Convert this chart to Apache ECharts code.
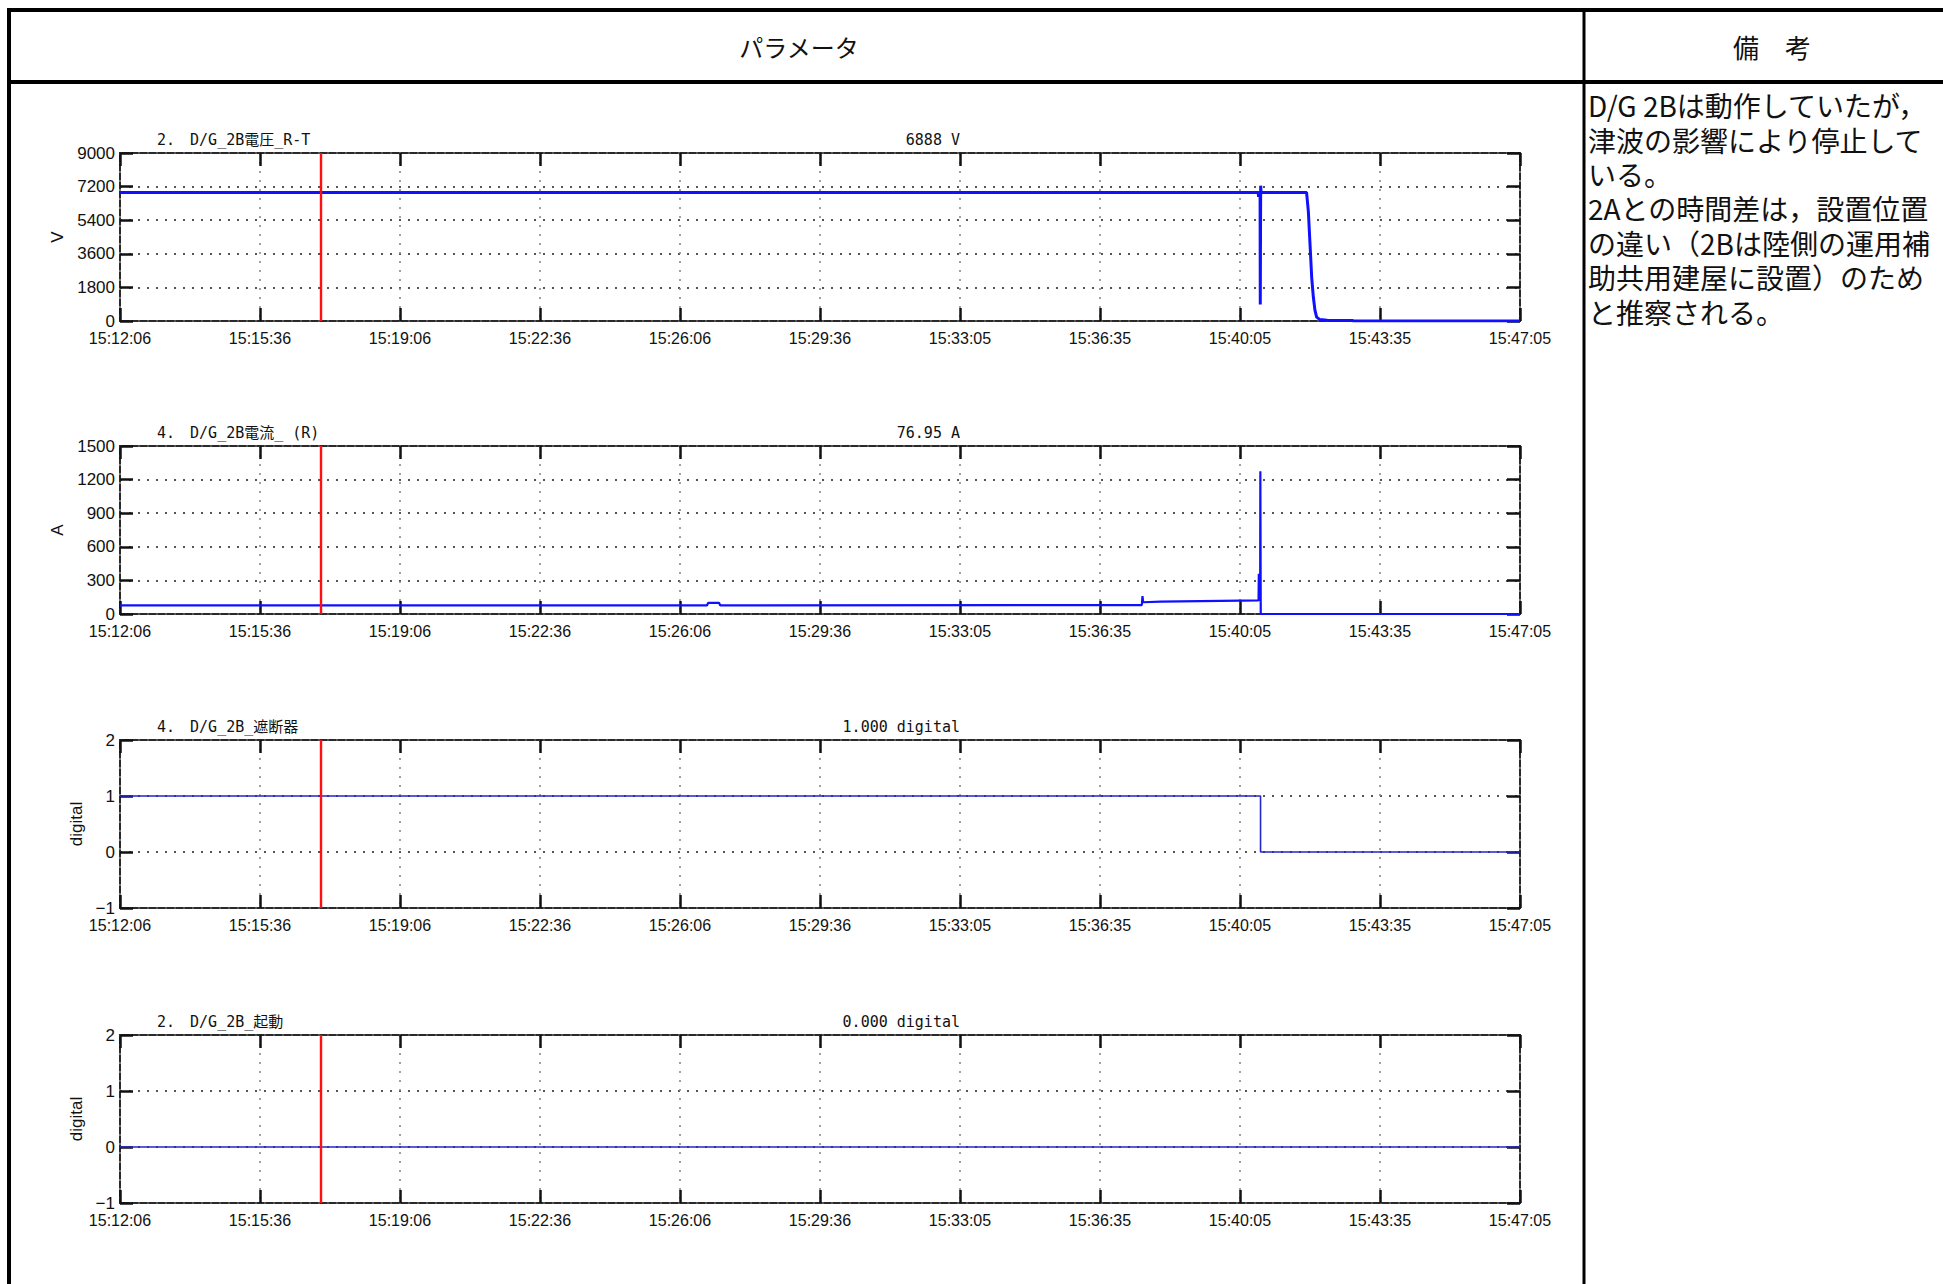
<!DOCTYPE html>
<html>
<head>
<meta charset="utf-8">
<script src="https://cdn.jsdelivr.net/npm/echarts@6/dist/echarts.min.js"></script>
<style>
  html, body { margin: 0; padding: 0; background: #fff; }
  #chart { width: 1943px; height: 1284px; }
</style>
</head>
<body>
<div id="chart"></div>
<script>
// ---------- data (time in seconds after 15:12:06) ----------
const xTickLabels = ['15:12:06','15:15:36','15:19:06','15:22:36','15:26:06','15:29:36','15:33:05','15:36:35','15:40:05','15:43:35','15:47:05'];
const xSpanSec = 2099;          // 15:12:06 -> 15:47:05
const cursorSec = 301;          // red cursor (about 15:17:07)

const voltTicks = ['0','1800','3600','5400','7200','9000'];
const ampTicks = ['0','300','600','900','1200','1500'];
const digitalTicks = ['\u22121','0','1','2'];

const voltTime  = [0, 1706.5, 1707, 1707.5, 1709.3, 1709.6, 1710.2, 1710.8, 1711.5, 1779, 1781.7, 1784.2, 1786.7, 1789.2, 1791.6, 1794.1, 1799, 1810, 1848, 1849, 2099];
const voltValue = [6888, 6888, 6650, 6888, 6888, 880, 7250, 6888, 6888, 6888, 5860, 4100, 2330, 1270, 570, 210, 75, 40, 30, 0, 0];

const ampTime  = [0, 880, 882, 898, 900, 1532, 1533, 1534, 1560, 1620, 1680, 1707, 1707.4, 1707.8, 1709.4, 1709.7, 1710.3, 2099];
const ampValue = [77, 77, 100, 100, 77, 80, 160, 105, 110, 115, 120, 122, 360, 125, 125, 1275, 0, 0];

const breakerTime  = [0, 1710, 1710, 2099];
const breakerValue = [1, 1, 0, 0];

const startTime  = [0, 2099];
const startValue = [0, 0];

const panelTitles = ['2.\u3000D/G_2B電圧_R-T', '4.\u3000D/G_2B電流_ (R)', '4.\u3000D/G_2B_遮断器', '2.\u3000D/G_2B_起動'];
const panelReadouts = ['6888 V', '76.95 A', '1.000 digital', '0.000 digital'];
const yUnits = ['V', 'A', 'digital', 'digital'];
const yMins = [0, 0, -1, -1];
const yMaxs = [9000, 1500, 2, 2];
const ySteps = [1800, 300, 1, 1];
const yTickSets = [voltTicks, ampTicks, digitalTicks, digitalTicks];

const headerLeft = 'パラメータ';
const headerRight = '備\u3000考';
const noteLines = [
  'D/G 2Bは動作していたが，',
  '津波の影響により停止して',
  'いる。',
  '2Aとの時間差は，設置位置',
  'の違い（2Bは陸側の運用補',
  '助共用建屋に設置）のため',
  'と推察される。'
];

// ---------- layout / style ----------
const gridTops = [153, 446, 740, 1035];
const gridH = 168, gridL = 120, gridW = 1400;
const lineWidths = [3, 2.2, 1.6, 1.6];
const lineColors = ['#1010ff', '#1010ff', '#2626c8', '#2626c8'];
const tickFont = '"Liberation Sans", Arial, sans-serif';
const monoFont = '"DejaVu Sans Mono", "Noto Sans CJK JP", monospace';
const jpFont = '"Noto Sans CJK JP", sans-serif';

const series = [[voltTime, voltValue], [ampTime, ampValue], [breakerTime, breakerValue], [startTime, startValue]];

const grids = [], xAxes = [], yAxes = [], seriesList = [], graphics = [];
const xStep = xSpanSec / 10;
const tickStyle = { color: '#111', width: 2.5 };

for (let i = 0; i < 4; i++) {
  grids.push({ left: gridL, top: gridTops[i], width: gridW, height: gridH, show: true,
    borderColor: '#2a2a2a', borderWidth: 2, backgroundColor: 'transparent' });
  // bottom x axis with labels
  xAxes.push({ gridIndex: i, type: 'value', position: 'bottom', min: 0, max: xSpanSec, interval: xStep,
    axisLine: { show: false, onZero: false },
    axisTick: { show: true, inside: true, length: 13, lineStyle: tickStyle },
    axisLabel: { show: true, interval: 0, showMinLabel: true, showMaxLabel: true, hideOverlap: false,
      margin: 9, color: '#111', fontSize: 16, fontFamily: tickFont,
      formatter: v => xTickLabels[Math.round(v / xStep)] || '' },
    splitLine: { show: true, lineStyle: { color: '#8a8a8a', width: 1.6, type: [2, 7] } } });
  // top x axis (ticks only)
  xAxes.push({ gridIndex: i, type: 'value', position: 'top', min: 0, max: xSpanSec, interval: xStep,
    axisLine: { show: false, onZero: false },
    axisTick: { show: true, inside: true, length: 13, lineStyle: tickStyle },
    axisLabel: { show: false }, splitLine: { show: false } });
  const ticks = yTickSets[i];
  const ymin = yMins[i], ystep = ySteps[i];
  yAxes.push({ gridIndex: i, type: 'value', position: 'left', min: yMins[i], max: yMaxs[i], interval: ySteps[i],
    name: yUnits[i], nameLocation: 'middle', nameRotate: 90, nameGap: i < 2 ? 43 : 25,
    nameTextStyle: { fontSize: 17, color: '#111', fontFamily: '"Liberation Sans", Arial, sans-serif' },
    axisLine: { show: false, onZero: false },
    axisTick: { show: true, inside: true, length: 13, lineStyle: tickStyle },
    axisLabel: { show: true, margin: 5, color: '#111', fontSize: 17, fontFamily: tickFont,
      showMinLabel: true, showMaxLabel: true,
      formatter: v => ticks[Math.round((v - ymin) / ystep)] || '' },
    splitLine: { show: true, lineStyle: { color: '#555', width: 2, type: [2, 7] } } });
  yAxes.push({ gridIndex: i, type: 'value', position: 'right', min: yMins[i], max: yMaxs[i], interval: ySteps[i],
    axisLine: { show: false, onZero: false },
    axisTick: { show: true, inside: true, length: 13, lineStyle: tickStyle },
    axisLabel: { show: false }, splitLine: { show: false } });

  const [ts, vs] = series[i];
  seriesList.push({ type: 'line', xAxisIndex: i * 2, yAxisIndex: i * 2, showSymbol: false, symbol: 'none',
    data: ts.map((t, k) => [t, vs[k]]),
    lineStyle: { color: lineColors[i], width: lineWidths[i] }, itemStyle: { color: lineColors[i] },
    markLine: { silent: true, symbol: 'none', animation: false, label: { show: false },
      lineStyle: { color: '#ff1010', width: 2.4, type: 'solid' },
      data: [{ xAxis: cursorSec }] } });

  // panel title and readout
  graphics.push({ type: 'text', x: 157, y: gridTops[i] - 13,
    style: { text: panelTitles[i], fontSize: 15, fontFamily: monoFont, fill: '#111', align: 'left', verticalAlign: 'middle' } });
  graphics.push({ type: 'text', x: 960, y: gridTops[i] - 13,
    style: { text: panelReadouts[i], fontSize: 15, fontFamily: monoFont, fill: '#111', align: 'right', verticalAlign: 'middle' } });
}

// table frame
graphics.push({ type: 'rect', shape: { x: 9, y: 10, width: 2000, height: 1400 }, style: { fill: 'none', stroke: '#000', lineWidth: 4 } });
graphics.push({ type: 'line', shape: { x1: 9, y1: 82, x2: 1943, y2: 82 }, style: { stroke: '#000', lineWidth: 4 } });
graphics.push({ type: 'line', shape: { x1: 1584, y1: 10, x2: 1584, y2: 1284 }, style: { stroke: '#000', lineWidth: 3 } });
graphics.push({ type: 'text', x: 799, y: 46, style: { text: headerLeft, fontSize: 24, fontFamily: jpFont, fill: '#111', align: 'center', verticalAlign: 'middle' } });
graphics.push({ type: 'text', x: 1772, y: 46, style: { text: headerRight, fontSize: 26, fontFamily: jpFont, fill: '#111', align: 'center', verticalAlign: 'middle' } });
graphics.push({ type: 'text', x: 1588, y: 88, style: { text: noteLines.join('\n'), fontSize: 28, lineHeight: 34.4, fontFamily: jpFont, fill: '#111', align: 'left', verticalAlign: 'top' } });

const chart = echarts.init(document.getElementById('chart'), null, { renderer: 'svg' });
chart.setOption({
  animation: false,
  backgroundColor: '#fff',
  grid: grids, xAxis: xAxes, yAxis: yAxes, series: seriesList,
  graphic: { elements: graphics }
});
</script>
</body>
</html>
